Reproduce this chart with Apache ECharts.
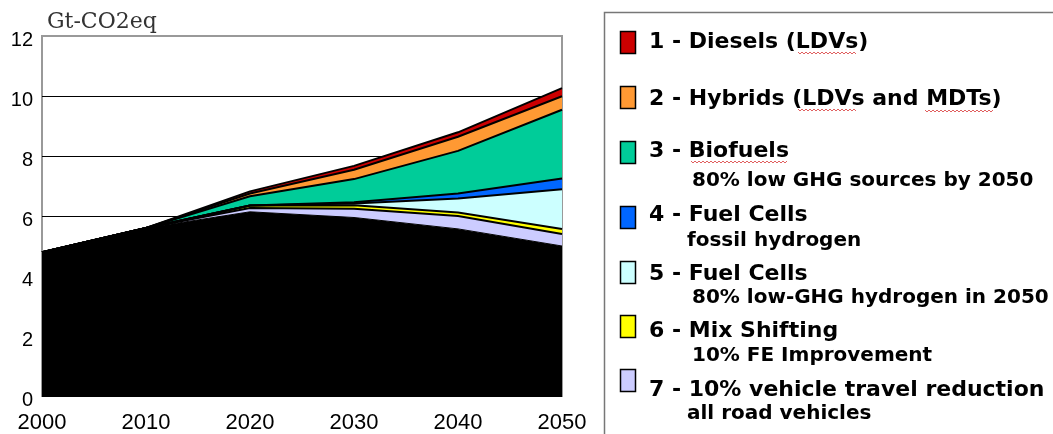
<!DOCTYPE html>
<html>
<head>
<meta charset="utf-8">
<style>
  html, body { margin: 0; padding: 0; background: #fff; }
  #main { width: 1053px; height: 434px; }
</style>
<script src="https://cdn.jsdelivr.net/npm/echarts@6/dist/echarts.min.js"></script>
</head>
<body>
<div id="main"></div>
<script>
// ---- data (Gt-CO2eq) ----
const years = ['2000', '2010', '2020', '2030', '2040', '2050'];
const baseline      = [4.79, 5.60, 6.14, 5.95, 5.57, 5.00];
const travelRed     = [0, 0, 0.13, 0.29, 0.43, 0.40];   // 7
const mixShift      = [0, 0, 0.08, 0.12, 0.12, 0.17];   // 6
const fcLowGhg      = [0, 0, 0, 0.06, 0.46, 1.32];      // 5
const fcFossil      = [0, 0, 0, 0.04, 0.17, 0.36];      // 4
const biofuels      = [0, 0, 0.31, 0.77, 1.42, 2.29];   // 3
const hybrids       = [0, 0, 0.09, 0.31, 0.47, 0.45];   // 2
const diesels       = [0, 0, 0.07, 0.13, 0.15, 0.27];   // 1
const yTicks = [0, 2, 4, 6, 8, 10, 12];
const unitLabel = 'Gt-CO2eq';

const legendTitles = [
  '1 - Diesels (LDVs)',
  '2 - Hybrids (LDVs and MDTs)',
  '3 - Biofuels',
  '4 - Fuel Cells',
  '5 - Fuel Cells',
  '6 - Mix Shifting',
  '7 - 10% vehicle travel reduction'
];
const legendSubs = [
  '',
  '',
  '80% low GHG sources by 2050',
  'fossil hydrogen',
  '80% low-GHG hydrogen in 2050',
  '10% FE Improvement',
  'all road vehicles'
];

// ---- styles ----
const colors = ['#cc0000', '#ff9933', '#00cc99', '#0066ff', '#ccffff', '#ffff00', '#ccccff'];
const baseColor = '#000000';

const layerData = [diesels, hybrids, biofuels, fcFossil, fcLowGhg, mixShift, travelRed];

const series = [];
series.push({
  name: 'Baseline', type: 'line', stack: 'all', symbol: 'none',
  data: baseline,
  lineStyle: { color: '#000', width: 1 },
  areaStyle: { color: baseColor, opacity: 1 },
  z: 2
});
// stack from bottom (7) up to (1)
for (let k = 6; k >= 0; k--) {
  series.push({
    name: legendTitles[k], type: 'line', stack: 'all', symbol: 'none',
    data: layerData[k],
    lineStyle: { color: '#000', width: 2 },
    areaStyle: { color: colors[k], opacity: 1 },
    z: 2
  });
}

// ---- legend graphics ----
const swatchTops = [31, 86, 141, 206, 261, 315, 369];
const titleY = [42, 99, 151, 215, 274, 331, 390];
const subY = [0, 0, 181, 241, 298, 356, 414];
const subX = [0, 0, 692, 687, 692, 692, 687];
const legendFont = '"DejaVu Sans", Verdana, sans-serif';

const graphics = [];
graphics.push({
  type: 'rect', shape: { x: 604.5, y: 12.5, width: 470, height: 440 },
  style: { fill: 'none', stroke: '#777', lineWidth: 1.5 }, z: 10
});
for (let i = 0; i < 7; i++) {
  graphics.push({
    type: 'rect', shape: { x: 620.5, y: swatchTops[i] + 0.5, width: 15, height: 22 },
    style: { fill: colors[i], stroke: '#000', lineWidth: 1.5 }, z: 10
  });
  graphics.push({
    type: 'text', x: 649, y: titleY[i],
    style: { text: legendTitles[i], fill: '#000', font: 'bold 22px ' + legendFont, textVerticalAlign: 'middle' },
    z: 10
  });
  if (legendSubs[i]) {
    graphics.push({
      type: 'text', x: subX[i], y: subY[i],
      style: { text: legendSubs[i], fill: '#000', font: 'bold 20px ' + legendFont, textVerticalAlign: 'middle' },
      z: 10
    });
  }
}
// spell-check style wavy underlines (decoration)
function wave(x0, x1, y) {
  const pts = [];
  let up = true;
  for (let x = x0; x <= x1; x += 2) { pts.push([x, up ? y : y + 2]); up = !up; }
  return pts;
}
[[798, 856, 52], [798, 857, 109], [925, 993, 110], [691, 787, 161]].forEach(w => {
  graphics.push({
    type: 'polyline', shape: { points: wave(w[0], w[1], w[2]) },
    style: { stroke: '#e06060', lineWidth: 1, fill: 'none' }, z: 11
  });
});
graphics.push({
  type: 'text', x: 47, y: 22,
  style: { text: unitLabel, fill: '#333', font: '22px "DejaVu Serif", "Liberation Serif", serif', textVerticalAlign: 'middle' },
  z: 10
});

const chart = echarts.init(document.getElementById('main'), null, { renderer: 'canvas' });
chart.setOption({
  animation: false,
  backgroundColor: '#fff',
  grid: {
    left: 42, right: 491, top: 36, bottom: 37,
    show: true, borderColor: '#999', borderWidth: 2, backgroundColor: 'transparent'
  },
  xAxis: {
    type: 'category', data: years, boundaryGap: false,
    axisLine: { show: false }, axisTick: { show: false }, splitLine: { show: false },
    axisLabel: { color: '#000', fontSize: 22, fontFamily: '"Liberation Sans", Arial, sans-serif', margin: 16 }
  },
  yAxis: {
    type: 'value', min: yTicks[0], max: yTicks[yTicks.length - 1], interval: 2,
    axisLine: { show: false }, axisTick: { show: false },
    splitLine: { show: true, showMaxLine: false, lineStyle: { color: '#000', width: 1 } },
    axisLabel: { color: '#000', fontSize: 20, fontFamily: '"Liberation Sans", Arial, sans-serif', margin: 9,
                 verticalAlign: 'top', lineHeight: 8 }
  },
  series: series,
  graphic: graphics
});
</script>
</body>
</html>
